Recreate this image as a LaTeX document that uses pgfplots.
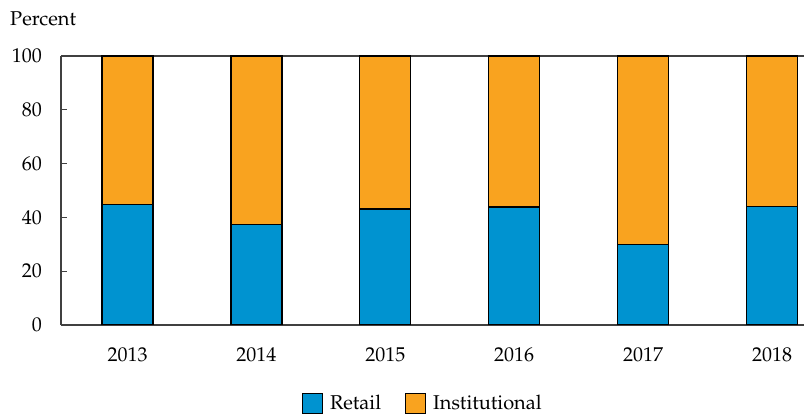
\documentclass[border=0pt]{standalone}
\usepackage[T1]{fontenc}
\usepackage{mathpazo}
\usepackage{pgfplots}
\pgfplotsset{compat=1.18}
\definecolor{retail}{HTML}{0093D0}
\definecolor{inst}{HTML}{F9A31F}
\definecolor{axisgray}{HTML}{404040}
\begin{document}
\fontsize{20bp}{24bp}\selectfont
\begin{tikzpicture}
\useasboundingbox (0,0) rectangle (805bp,414bp);
\begin{axis}[
  at={(61bp,89bp)}, anchor=south west,
  scale only axis, width=743bp, height=269bp,
  ybar stacked, bar width=51bp,
  xmin=-0.516, xmax=5.248, ymin=0, ymax=100,
  xtick={0,1,2,3,4,5},
  xticklabels={2013,2014,2015,2016,2017,2018},
  ytick={0,20,40,60,80,100},
  axis lines*=left,
  axis line style={axisgray, line width=1.2bp, -},
  tick align=inside,
  major tick length=6bp,
  tick style={axisgray, line width=1bp},
  /pgf/number format/assume math mode=true,
  tick label style={font=\fontsize{20bp}{24bp}\selectfont},
  yticklabel style={anchor=east, inner sep=0pt, xshift=-19bp},
  xticklabel style={anchor=north, inner sep=0pt, yshift=-22bp},
  legend columns=2,
  legend style={draw=none, fill=none, inner sep=0pt, outer sep=0pt,
    at={(axis description cs:0.3244,-0.29)}, anchor=west,
    font=\fontsize{20bp}{24bp}\selectfont,
    nodes={inner sep=0pt, anchor=base west},
    /tikz/every odd column/.append style={column sep=7bp},
    /tikz/every even column/.append style={column sep=24bp}},
  legend image code/.code={\draw[#1, draw=black, line width=1bp] (0bp,-4bp) rectangle (20bp,16bp);},
  every axis plot/.append style={draw=black, line width=1.2bp},
]
\addplot[fill=retail] coordinates {(0,44.8) (1,37.3) (2,43.1) (3,43.9) (4,29.8) (5,44.2)};
\addlegendentry{Retail}
\addplot[fill=inst] coordinates {(0,55.2) (1,62.7) (2,56.9) (3,56.1) (4,70.2) (5,55.8)};
\addlegendentry{Institutional}
\draw[axisgray, line width=1.2bp] (rel axis cs:0,1) -- (rel axis cs:1,1);
\end{axis}
\node[anchor=base west, inner sep=0pt] at (10bp,388bp) {Percent};
\end{tikzpicture}
\end{document}
